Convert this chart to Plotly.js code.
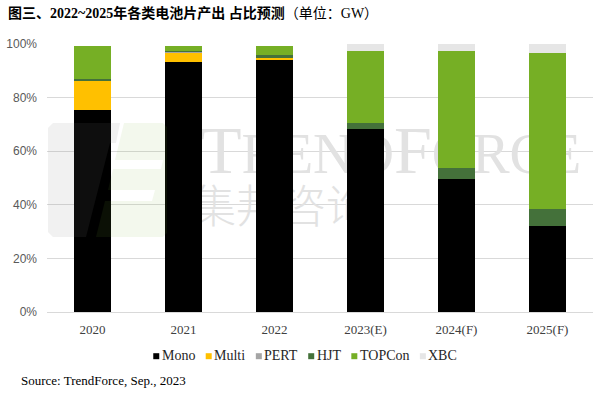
<!DOCTYPE html>
<html><head><meta charset="utf-8">
<script src="https://cdn.plot.ly/plotly-3.0.1.min.js"></script>
<style>html,body{margin:0;padding:0;background:#fff}#chart{width:603px;height:393px}</style>
</head><body><div id="chart"></div>
<script>
// ---- data ----
const categories = ['2020', '2021', '2022', '2023(E)', '2024(F)', '2025(F)'];
const seriesNames = ['Mono', 'Multi', 'PERT', 'HJT', 'TOPCon', 'XBC'];
const mono   = [75.3, 93.2, 94.1, 68.1, 49.5, 32.1];
const multi  = [10.9, 3.6, 0.6, 0, 0, 0];
const pert   = [0, 0.1, 0.1, 0, 0, 0];
const hjt    = [0.8, 0.6, 1.2, 2.6, 4.2, 6.4];
const topcon = [12.4, 1.9, 3.4, 26.6, 43.6, 58.3];
const xbc    = [0, 0, 0, 2.7, 2.7, 3.2];
const yTicks = [0, 20, 40, 60, 80, 100];
const yTickLabels = ['0%', '20%', '40%', '60%', '80%', '100%'];
const titleMain = '图三、2022~2025年各类电池片产出 占比预测';
const titleUnit = '（单位：GW）';
const sourceText = 'Source: TrendForce, Sep., 2023';
const watermarkEn = ['T', 'REND', 'F', 'ORCE'];
const watermarkZh = '集邦咨询';

// ---- styles ----
const colors = ['#000000', '#FFC000', '#A5A5A5', '#44713A', '#76AF25', '#E6E6E6'];
const seriesValues = [mono, multi, pert, hjt, topcon, xbc];

const W = 603, H = 393;
const M = {l: 47, r: 10, t: 44, b: 81};
const PW = W - M.l - M.r, PH = H - M.t - M.b;
const px2x = p => (p - M.l) / PW;
const px2y = p => (H - M.b - p) / PH;

const traces = [];
// watermark as one two-line text (on base axes, beneath the overlaid bar subplot)
const big = s => '<span style="font-size:68px">' + s + '</span>';
const small = s => '<span style="font-size:56px">' + s + '</span>';
const wmText = '<span style="font-size:36px">&nbsp;</span>' +
  big(watermarkEn[0]) + small(watermarkEn[1]) + big(watermarkEn[2]) + small(watermarkEn[3]) +
  '<br><span style="font-family:\'Noto Sans CJK SC\';font-size:45px;font-weight:300">' + watermarkZh + '</span>';
traces.push({
  type: 'scatter', mode: 'text', xaxis: 'x', yaxis: 'y',
  x: [px2x(191)], y: [px2y(188.5)],
  text: [wmText],
  textposition: 'middle right',
  textfont: {family: 'Liberation Serif', size: 38.5, color: '#e2e2e2'},
  hoverinfo: 'skip', showlegend: false, cliponaxis: false
});

seriesNames.forEach((n, i) => {
  traces.push({
    type: 'bar', name: n, x: categories, y: seriesValues[i],
    xaxis: 'x2', yaxis: 'y2',
    marker: {color: colors[i], line: {width: 0}},
    showlegend: false, hoverinfo: 'x+y+name'
  });
});

// ---- logo shapes (faint, above) ----
function poly(pts) {
  return 'M' + pts.map(p => px2x(p[0]).toFixed(5) + ',' + px2y(p[1]).toFixed(5)).join('L') + 'Z';
}
const shapes = [];
shapes.push({
  type: 'path', xref: 'paper', yref: 'paper', layer: 'above', line: {width: 0},
  fillcolor: 'rgba(130,130,130,0.11)',
  path: poly([[53,123],[120,123],[116,143],[110,143],[86,237],[53,237],[48,232],[48,128]])
});
shapes.push({
  type: 'path', xref: 'paper', yref: 'paper', layer: 'above', line: {width: 0},
  fillcolor: 'rgba(120,175,60,0.09)',
  path: poly([[124,123],[163,123],[167,127],[167,160],[115,160]]) +
        poly([[163,160],[167,160],[167,169],[161,169]]) +
        poly([[113,169],[167,169],[167,190],[108,190]]) +
        poly([[155,190],[167,190],[167,201],[152,201]]) +
        poly([[105,201],[167,201],[167,233],[163,237],[96,237]])
});

// ---- custom legend (squares + text) ----
const annotations = [];
const legFont = '14px "Liberation Serif"';
const cv = document.createElement('canvas').getContext('2d');
cv.font = legFont;
const sq = 6, gapIn = 1.5, gapOut = 11.5, legY = 355.7, legCx = 304.7;
const widths = seriesNames.map(n => cv.measureText(n).width);
const total = widths.reduce((a, w) => a + sq + gapIn + w, 0) + gapOut * (seriesNames.length - 1);
let cx = legCx - total / 2;
seriesNames.forEach((n, i) => {
  shapes.push({
    type: 'rect', xref: 'paper', yref: 'paper', layer: 'above',
    x0: px2x(cx), x1: px2x(cx + sq), y0: px2y(legY - sq / 2 + 0.5), y1: px2y(legY + sq / 2 + 0.5),
    fillcolor: colors[i], line: {width: 0}
  });
  annotations.push({
    xref: 'paper', yref: 'paper', x: px2x(cx + sq + gapIn), y: px2y(legY),
    xanchor: 'left', yanchor: 'middle', showarrow: false, text: n,
    font: {family: 'Liberation Serif', size: 14, color: '#262626'}, borderpad: 0
  });
  cx += sq + gapIn + widths[i] + gapOut;
});
annotations.push({
  xref: 'paper', yref: 'paper', x: px2x(20), y: px2y(380),
  xanchor: 'left', yanchor: 'middle', showarrow: false, text: sourceText,
  font: {family: 'Liberation Serif', size: 13, color: '#000000'}, borderpad: 0
});

const layout = {
  width: W, height: H, margin: M,
  paper_bgcolor: '#ffffff', plot_bgcolor: 'rgba(0,0,0,0)',
  showlegend: false,
  barmode: 'stack', bargap: 0.604,
  title: {
    text: '<b>' + titleMain + '</b>' + titleUnit,
    x: 8 / W, xref: 'container', xanchor: 'left',
    y: 1 - 13 / H, yref: 'container', yanchor: 'middle',
    font: {family: 'Liberation Serif, Noto Sans CJK SC', size: 14, color: '#000000'}
  },
  xaxis: {range: [0, 1], visible: false, fixedrange: true},
  yaxis: {range: [0, 1], visible: false, fixedrange: true},
  xaxis2: {
    type: 'category', overlaying: 'x', anchor: 'y2',
    showgrid: false, zeroline: false, showline: true, linecolor: '#d9d9d9', linewidth: 1,
    ticks: '', ticklabelstandoff: 5,
    tickfont: {family: 'Liberation Serif', size: 13, color: '#404040'}
  },
  yaxis2: {
    overlaying: 'y', anchor: 'x2', range: [0, 100],
    tickmode: 'array', tickvals: yTicks, ticktext: yTickLabels,
    showgrid: true, gridcolor: '#d9d9d9', gridwidth: 1,
    zeroline: false, showline: false, ticks: '', ticklabelstandoff: 9,
    tickfont: {family: 'Liberation Sans', size: 12, color: '#595959'}
  },
  shapes: shapes,
  annotations: annotations
};

Plotly.newPlot('chart', traces, layout, {staticPlot: true, displayModeBar: false});
</script>
</body></html>
